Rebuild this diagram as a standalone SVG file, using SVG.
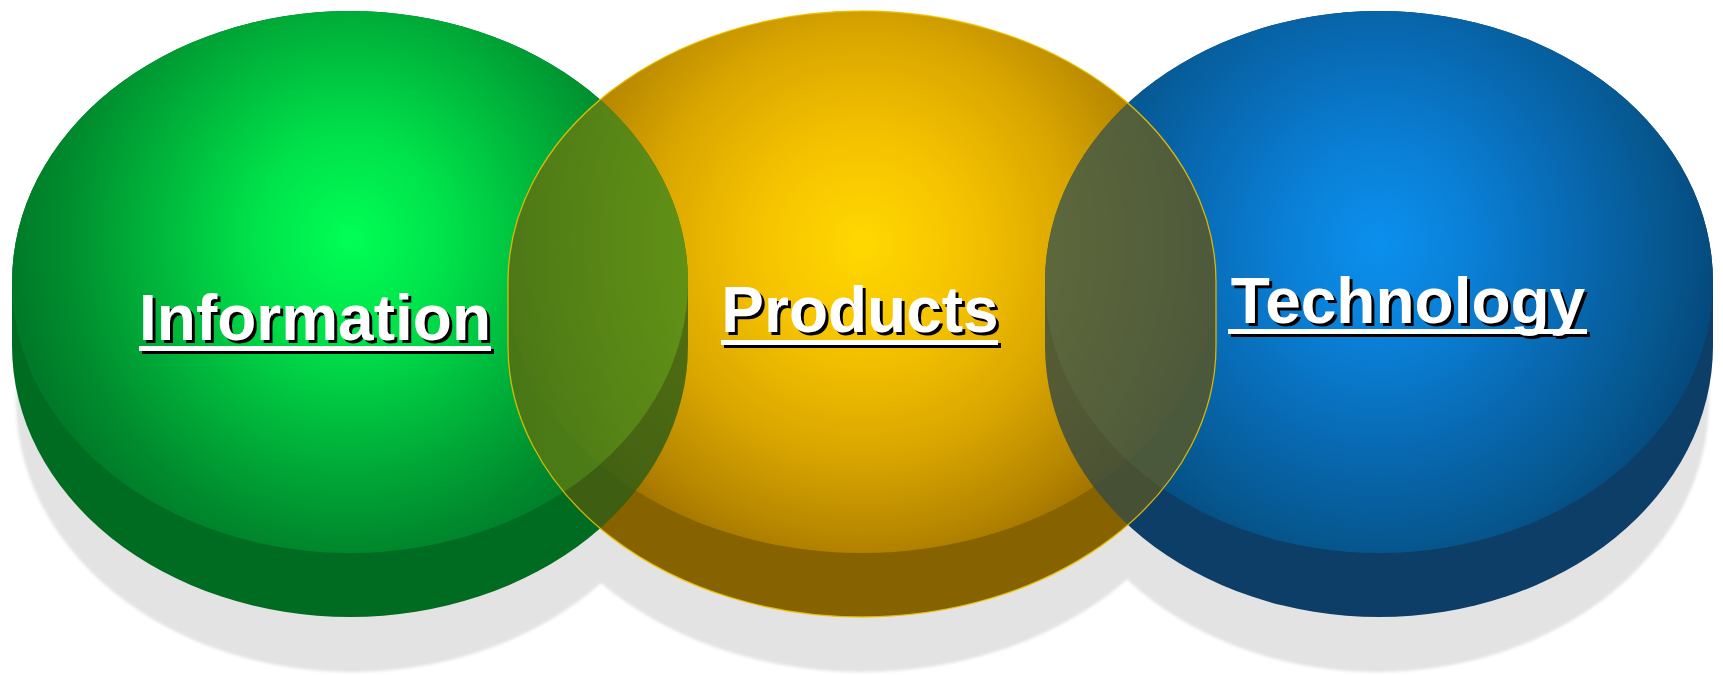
<svg xmlns="http://www.w3.org/2000/svg" width="1723" height="675" viewBox="0 0 1723 675">
  <defs>
    <style>
      .shadow { fill: #e3e3e3; }
      .lbl { font-family: "Liberation Sans", Arial, sans-serif; font-weight: bold; font-size: 64px; text-anchor: middle; }
      .sh { fill: #000000; }
      .fg { fill: #ffffff; }
    </style>
    <filter id="soft" x="-5%" y="-5%" width="110%" height="110%">
      <feGaussianBlur stdDeviation="1.5"/>
    </filter>
    <radialGradient id="gGreen" cx="0.5" cy="0.42" r="0.5" gradientTransform="translate(0.5,0.42) scale(1,1.3) translate(-0.5,-0.42)">
      <stop offset="0" stop-color="#00ff55"/>
      <stop offset="0.3" stop-color="#00e04a"/>
      <stop offset="0.6" stop-color="#00b23a"/>
      <stop offset="0.85" stop-color="#008c2e"/>
      <stop offset="1" stop-color="#007a28"/>
    </radialGradient>
    <radialGradient id="gGold" cx="0.5" cy="0.43" r="0.5" gradientTransform="translate(0.5,0.43) scale(1,1.3) translate(-0.5,-0.43)">
      <stop offset="0" stop-color="#ffd800"/>
      <stop offset="0.3" stop-color="#f5c200"/>
      <stop offset="0.6" stop-color="#d9a600"/>
      <stop offset="0.85" stop-color="#b58500"/>
      <stop offset="1" stop-color="#9a6c00"/>
    </radialGradient>
    <radialGradient id="gBlue" cx="0.5" cy="0.43" r="0.5" gradientTransform="translate(0.5,0.43) scale(1,1.3) translate(-0.5,-0.43)">
      <stop offset="0" stop-color="#0b90ee"/>
      <stop offset="0.3" stop-color="#0a7ed4"/>
      <stop offset="0.6" stop-color="#0868b0"/>
      <stop offset="0.85" stop-color="#065890"/>
      <stop offset="1" stop-color="#054a7e"/>
    </radialGradient>
    <linearGradient id="lensG" x1="0" y1="0" x2="1" y2="0">
      <stop offset="0" stop-color="#3f7f1e"/>
      <stop offset="0.55" stop-color="#36711a"/>
      <stop offset="1" stop-color="#458a1c"/>
    </linearGradient>
    <linearGradient id="lensB" x1="0" y1="0" x2="1" y2="0">
      <stop offset="0" stop-color="#40584a"/>
      <stop offset="0.5" stop-color="#3a5346"/>
      <stop offset="1" stop-color="#405f52"/>
    </linearGradient>
    <clipPath id="clipGold">
      <path d="M508,282 A354,271 0 0 1 1216,282 L1216,346 A354,271 0 0 1 508,346 Z"/>
    </clipPath>
  </defs>

  <rect width="1723" height="675" fill="#ffffff"/>

  <g id="shadows" filter="url(#soft)">
    <ellipse class="shadow" cx="352" cy="401" rx="336" ry="271"/>
    <ellipse class="shadow" cx="1377" cy="401" rx="332" ry="271"/>
    <ellipse class="shadow" cx="862" cy="401" rx="352" ry="271"/>
  </g>

  <g id="information">
    <path d="M12,282 A338,271 0 0 1 688,282 L688,346 A338,271 0 0 1 12,346 Z" fill="#006c22"/>
    <ellipse cx="350" cy="282" rx="338" ry="271" fill="url(#gGreen)"/>
  </g>

  <g id="technology">
    <path d="M1045,282 A334,271 0 0 1 1713,282 L1713,346 A334,271 0 0 1 1045,346 Z" fill="#0c3e68"/>
    <ellipse cx="1379" cy="282" rx="334" ry="271" fill="url(#gBlue)"/>
  </g>

  <g id="products">
    <path d="M508,282 A354,271 0 0 1 1216,282 L1216,346 A354,271 0 0 1 508,346 Z" fill="#876300"/>
    <ellipse cx="862" cy="282" rx="354" ry="271" fill="url(#gGold)"/>
  </g>

  <g id="overlaps">
    <g clip-path="url(#clipGold)" opacity="0.82">
      <path d="M12,282 A338,271 0 0 1 688,282 L688,346 A338,271 0 0 1 12,346 Z" fill="#2f5f17"/>
      <ellipse cx="350" cy="282" rx="338" ry="271" fill="url(#lensG)"/>
    </g>
    <g clip-path="url(#clipGold)" opacity="0.82">
      <path d="M1045,282 A334,271 0 0 1 1713,282 L1713,346 A334,271 0 0 1 1045,346 Z" fill="#394c40"/>
      <ellipse cx="1379" cy="282" rx="334" ry="271" fill="url(#lensB)"/>
    </g>
    <path d="M508,282 A354,271 0 0 1 1216,282 L1216,346 A354,271 0 0 1 508,346 Z" fill="none" stroke="#f0c400" stroke-width="1.3" stroke-opacity="0.85"/>
  </g>

  <g id="labels" class="lbl">
    <g id="label-information">
      <text class="sh" x="318" y="343">Information</text>
      <rect class="sh" x="142" y="349" width="352" height="5"/>
      <text class="fg" x="315" y="340">Information</text>
      <rect class="fg" x="139" y="346" width="352" height="5"/>
    </g>
    <g id="label-products">
      <text class="sh" x="863" y="335">Products</text>
      <rect class="sh" x="724" y="343" width="277" height="5"/>
      <text class="fg" x="860" y="332">Products</text>
      <rect class="fg" x="721" y="340" width="277" height="5"/>
    </g>
    <g id="label-technology">
      <text class="sh" x="1411" y="326">Technology</text>
      <rect class="sh" x="1231" y="332" width="359" height="5"/>
      <text class="fg" x="1408" y="323">Technology</text>
      <rect class="fg" x="1228" y="329" width="359" height="5"/>
    </g>
  </g>
</svg>
